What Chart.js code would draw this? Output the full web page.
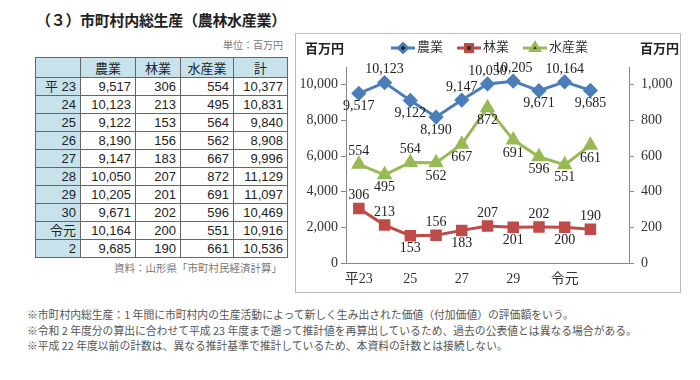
<!DOCTYPE html>
<html>
<head>
<meta charset="utf-8">
<script src="https://cdn.jsdelivr.net/npm/chart.js@4"></script>
<style>
  body { margin: 0; background: #fff; width: 700px; height: 380px; position: relative; overflow: hidden;
         font-family: 'Noto Sans CJK JP', sans-serif; color: #222; }
  #title { position: absolute; left: 36px; top: 9px; font-size: 15px; font-weight: bold; letter-spacing: -0.3px; }
  #unit { position: absolute; right: 417px; top: 37px; font-size: 10px; color: #777; }
  #source { position: absolute; right: 418px; top: 260px; font-size: 10.5px; color: #777; }
  #tbl { position: absolute; left: 35px; top: 57px; border-collapse: collapse; font-family: 'Liberation Sans', 'Noto Sans CJK JP', sans-serif; font-size: 13px; }
  #tbl td, #tbl th { border: 1px solid #666; padding: 0 4px; height: 17px; line-height: 17px; text-align: right; }
  #tbl th { background: #c8e2ec; font-weight: normal; text-align: center; height: 19px; font-family: 'Noto Sans CJK JP', sans-serif; }
  #tbl td.yr { background: #c8e2ec; }
  #chartBox { position: absolute; left: 295px; top: 33px; width: 384px; height: 258px; border: 1px solid #bbb; }
  #notes { position: absolute; left: 27px; top: 307px; font-size: 10.8px; line-height: 15.5px; color: #555; white-space: nowrap; }
</style>
</head>
<body>
<div id="title">（３）市町村内総生産（農林水産業）</div>
<div id="unit">単位：百万円</div>
<table id="tbl"></table>
<div id="source">資料：山形県「市町村民経済計算」</div>
<div id="chartBox"><canvas id="prodChart" width="384" height="258"></canvas></div>
<div id="notes">
  ※市町村内総生産：1 年間に市町村内の生産活動によって新しく生み出された価値（付加価値）の評価額をいう。<br>
  ※令和 2 年度分の算出に合わせて平成 23 年度まで遡って推計値を再算出しているため、過去の公表値とは異なる場合がある。<br>
  ※平成 22 年度以前の計数は、異なる推計基準で推計しているため、本資料の計数とは接続しない。
</div>

<script>
// data
var tableYears = ['平 23', '24', '25', '26', '27', '28', '29', '30', '令元', '2'];
var chartYears = ['平23', '24', '25', '26', '27', '28', '29', '30', '令元', '2', ''];
var farm = [9517, 10123, 9122, 8190, 9147, 10050, 10205, 9671, 10164, 9685];
var forest = [306, 213, 153, 156, 183, 207, 201, 202, 200, 190];
var fishery = [554, 495, 564, 562, 667, 872, 691, 596, 551, 661];
var total = [10377, 10831, 9840, 8908, 9996, 11129, 11097, 10469, 10916, 10536];
var leftTicks = [0, 2000, 4000, 6000, 8000, 10000];
var rightTicks = [0, 200, 400, 600, 800, 1000];

// where each value label sits: 'a' above the point, 'b' below
var farmLabelSide = ['b', 'a', 'b', 'b', 'a', 'a', 'a', 'b', 'a', 'b'];
var forestLabelSide = ['a', 'a', 'b', 'a', 'b', 'a', 'b', 'a', 'b', 'a'];
var fisheryLabelSide = ['a', 'b', 'a', 'b', 'b', 'b', 'b', 'b', 'b', 'b'];

function fmt(v) { return v.toLocaleString('en-US'); }

// table
var tbl = document.getElementById('tbl');
var colW = [45, 55, 45, 53, 54];
var html = '<tr>';
['', '農業', '林業', '水産業', '計'].forEach(function (h, i) {
  html += '<th style="width:' + (colW[i] - 9) + 'px">' + h + '</th>';
});
html += '</tr>';
tableYears.forEach(function (y, i) {
  html += '<tr><td class="yr">' + y + '</td><td>' + fmt(farm[i]) + '</td><td>' + fmt(forest[i]) +
    '</td><td>' + fmt(fishery[i]) + '</td><td>' + fmt(total[i]) + '</td></tr>';
});
tbl.innerHTML = html;

var blue = '#4a7ebb', red = '#be4b48', green = '#98b954';
var serif = "'Liberation Serif', 'Noto Sans CJK JP', serif";

var labelsPlugin = {
  id: 'valueLabels',
  afterDatasetsDraw: function (chart) {
    var ctx = chart.ctx;
    ctx.save();
    ctx.font = '14px ' + serif;
    ctx.fillStyle = '#222';
    ctx.textAlign = 'center';
    ctx.textBaseline = 'middle';
    chart.data.datasets.forEach(function (ds, di) {
      var meta = chart.getDatasetMeta(di);
      meta.data.forEach(function (pt, i) {
        if (ds.data[i] == null) return;
        var dy = ds.labelSide[i] === 'a' ? -13 : 13;
        ctx.fillText(fmt(ds.data[i]), pt.x, pt.y + dy);
      });
    });
    ctx.restore();
  }
};

var headerPlugin = {
  id: 'header',
  afterDraw: function (chart) {
    var ctx = chart.ctx;
    ctx.save();
    ctx.fillStyle = '#222';
    ctx.textBaseline = 'middle';
    ctx.font = 'bold 13px "Noto Sans CJK JP"';
    ctx.textAlign = 'left';
    ctx.fillText('百万円', 9, 14);
    ctx.fillText('百万円', 344, 14);

    // legend: line with marker, then name
    ctx.font = '13px ' + serif;
    var x = 95;
    chart.data.datasets.forEach(function (ds) {
      ctx.strokeStyle = ds.borderColor;
      ctx.lineWidth = 3;
      ctx.beginPath();
      ctx.moveTo(x, 14);
      ctx.lineTo(x + 24, 14);
      ctx.stroke();
      Chart.helpers.drawPoint(ctx, {
        pointStyle: ds.pointStyle, radius: ds.pointRadius - 1, borderWidth: 1
      }, x + 12, 14);
      ctx.fillStyle = '#333';
      ctx.fillText(ds.label, x + 26, 14);
      x += 26 + ctx.measureText(ds.label).width + 14;
    });
    ctx.restore();
  }
};

function keepTicks(list) {
  return function (scale) {
    scale.ticks = list.map(function (v) { return { value: v }; });
  };
}

var ctx = document.getElementById('prodChart').getContext('2d');
var chart = new Chart(ctx, {
  type: 'line',
  data: {
    labels: chartYears,
    datasets: [{
      label: '農業',
      data: farm,
      yAxisID: 'y',
      borderColor: blue, backgroundColor: blue,
      pointStyle: 'rectRot', pointRadius: 5.5,
      borderWidth: 3, labelSide: farmLabelSide
    }, {
      label: '林業',
      data: forest,
      yAxisID: 'y1',
      borderColor: red, backgroundColor: red,
      pointStyle: 'rect', pointRadius: 6,
      borderWidth: 3, labelSide: forestLabelSide
    }, {
      label: '水産業',
      data: fishery,
      yAxisID: 'y1',
      borderColor: green, backgroundColor: green,
      pointStyle: 'triangle', pointRadius: 6,
      borderWidth: 3, labelSide: fisheryLabelSide
    }]
  },
  options: {
    responsive: false,
    animation: false,
    layout: { padding: { top: 33, left: 0, right: 0, bottom: 0 } },
    plugins: { legend: { display: false }, tooltip: { enabled: false } },
    scales: {
      x: {
        offset: true,
        grid: { display: false, drawTicks: false },
        border: { color: '#888' },
        ticks: {
          autoSkip: false, maxRotation: 0, padding: 8, color: '#333',
          font: { size: 14, family: serif },
          callback: function (v, i) { return i % 2 === 0 ? chartYears[i] : ''; }
        },
        afterFit: function (s) { s.height = 29; }
      },
      y: {
        position: 'left',
        min: 0, max: 11000,
        afterBuildTicks: keepTicks(leftTicks),
        grid: { drawOnChartArea: false, tickLength: 5, color: '#888' },
        border: { color: '#888' },
        ticks: { padding: 3, color: '#333', font: { size: 14, family: serif }, callback: function (v) { return fmt(v); } },
        afterFit: function (s) { s.width = 50; }
      },
      y1: {
        position: 'right',
        min: 0, max: 1100,
        afterBuildTicks: keepTicks(rightTicks),
        grid: { drawOnChartArea: false, tickLength: 5, color: '#888' },
        border: { color: '#888' },
        ticks: { padding: 7, color: '#333', font: { size: 14, family: serif }, callback: function (v) { return fmt(v); } },
        afterFit: function (s) { s.width = 51; }
      }
    }
  },
  plugins: [labelsPlugin, headerPlugin]
});
</script>
</body>
</html>
